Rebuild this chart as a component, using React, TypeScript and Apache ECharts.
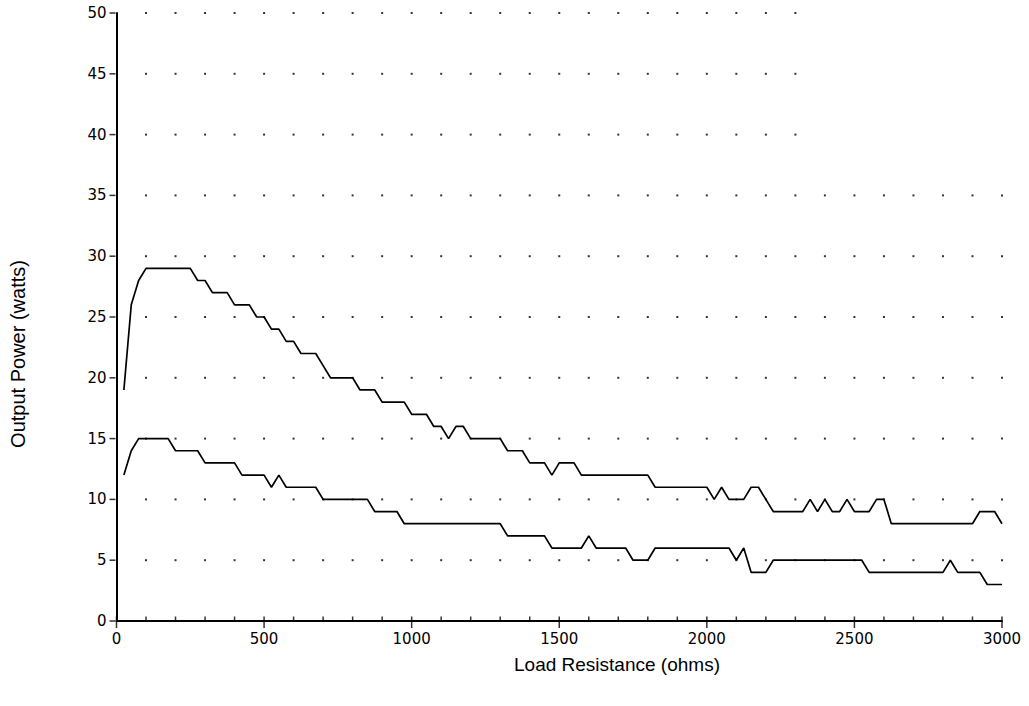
import React, { useEffect, useRef } from "react";
import * as echarts from "echarts";

// Upper curve: load resistance (ohms) and output power (watts) at its corners
const upperResistance = [25, 50, 75, 100, 250, 275, 300, 325, 375, 400, 450, 475, 500, 525, 550, 575, 600, 625, 675, 700, 725, 800, 825, 875, 900, 975, 1000, 1050, 1075, 1100, 1125, 1150, 1175, 1200, 1300, 1325, 1375, 1400, 1450, 1475, 1500, 1550, 1575, 1800, 1825, 2000, 2025, 2050, 2075, 2125, 2150, 2175, 2200, 2225, 2325, 2350, 2375, 2400, 2425, 2450, 2475, 2500, 2550, 2575, 2600, 2625, 2900, 2925, 2975, 3000];
const upperPower = [19, 26, 28, 29, 29, 28, 28, 27, 27, 26, 26, 25, 25, 24, 24, 23, 23, 22, 22, 21, 20, 20, 19, 19, 18, 18, 17, 17, 16, 16, 15, 16, 16, 15, 15, 14, 14, 13, 13, 12, 13, 13, 12, 12, 11, 11, 10, 11, 10, 10, 11, 11, 10, 9, 9, 10, 9, 10, 9, 9, 10, 9, 9, 10, 10, 8, 8, 9, 9, 8];

// Lower curve
const lowerResistance = [25, 50, 75, 175, 200, 275, 300, 400, 425, 500, 525, 550, 575, 675, 700, 850, 875, 950, 975, 1300, 1325, 1450, 1475, 1575, 1600, 1625, 1725, 1750, 1800, 1825, 2075, 2100, 2125, 2150, 2200, 2225, 2525, 2550, 2800, 2825, 2850, 2925, 2950, 3000];
const lowerPower = [12, 14, 15, 15, 14, 14, 13, 13, 12, 12, 11, 12, 11, 11, 10, 10, 9, 9, 8, 8, 7, 7, 6, 6, 7, 6, 6, 5, 5, 6, 6, 5, 6, 4, 4, 5, 5, 4, 4, 5, 4, 4, 3, 3];

// Axis extents and tick steps
const xMax = 3000;
const xMajorStep = 500;
const xMinorStep = 100;
const yMax = 50;
const yStep = 5;

// Dotted grid rows (watts) and how far each row of dots reaches (ohms)
const dotRows = [5, 10, 15, 20, 25, 30, 35, 40, 45, 50];
const dotRowEnds = [3000, 3000, 3000, 3000, 3000, 3000, 3000, 2300, 2300, 2300];

const xTitle = "Load Resistance (ohms)";
const yTitle = "Output Power (watts)";

export default function App() {
  const ref = useRef<HTMLDivElement>(null);

  useEffect(() => {
    if (!ref.current) return;
    const chart = echarts.init(ref.current, null, { renderer: "svg" });

    const dots: number[][] = [];
    dotRows.forEach((y, i) => {
      for (let x = xMinorStep; x <= dotRowEnds[i]; x += xMinorStep) dots.push([x, y]);
    });
    const xMinorTicks: number[][] = [];
    for (let x = 0; x <= xMax; x += xMinorStep) xMinorTicks.push([x, 0]);
    const xMajorTicks: number[][] = [];
    for (let x = 0; x <= xMax; x += xMajorStep) xMajorTicks.push([x, 0]);
    const yTicks: number[][] = [];
    for (let y = 0; y <= yMax; y += yStep) yTicks.push([0, y]);

    const tickMarks = (data: number[][], size: number[], offset: number[]) => ({
      type: "scatter",
      silent: true,
      clip: false,
      data,
      symbol: "rect",
      symbolSize: size,
      symbolOffset: offset,
      itemStyle: { color: "#000" },
      z: 5,
    });

    const tickFont = { fontFamily: "DejaVu Sans", fontSize: 15, color: "#000" };

    chart.setOption({
      animation: false,
      backgroundColor: "#fff",
      grid: { left: 116.5, top: 13, width: 885.5, height: 608, containLabel: false },
      xAxis: {
        type: "value",
        min: 0,
        max: xMax,
        interval: xMajorStep,
        axisLine: { show: true, onZero: false, lineStyle: { color: "#000", width: 2 } },
        axisTick: { show: false },
        axisLabel: { ...tickFont, margin: 10, formatter: (v: number) => String(v) },
        splitLine: { show: false },
      },
      yAxis: {
        type: "value",
        min: 0,
        max: yMax,
        interval: yStep,
        axisLine: { show: true, onZero: false, lineStyle: { color: "#000", width: 2 } },
        axisTick: { show: false },
        axisLabel: { ...tickFont, margin: 10 },
        splitLine: { show: false },
      },
      series: [
        {
          type: "scatter",
          silent: true,
          data: dots,
          symbol: "rect",
          symbolSize: 2,
          itemStyle: { color: "#000" },
          z: 1,
        },
        tickMarks(xMinorTicks, [1.5, 4], [0, -2.5]),
        tickMarks(xMajorTicks, [1.5, 7], [0, 3.5]),
        tickMarks(yTicks, [6, 1.5], [-4, 0]),
        {
          type: "line",
          data: upperResistance.map((x, i) => [x, upperPower[i]]),
          symbol: "none",
          lineStyle: { color: "#000", width: 1.7 },
          z: 3,
        },
        {
          type: "line",
          data: lowerResistance.map((x, i) => [x, lowerPower[i]]),
          symbol: "none",
          lineStyle: { color: "#000", width: 1.7 },
          z: 3,
        },
      ],
      graphic: [
        {
          type: "text",
          x: 617,
          y: 664,
          style: {
            text: xTitle,
            fontFamily: "Liberation Sans",
            fontSize: 19,
            fill: "#000",
            textAlign: "center",
            textVerticalAlign: "middle",
          },
        },
        {
          type: "text",
          x: 18,
          y: 354,
          rotation: Math.PI / 2,
          style: {
            text: yTitle,
            fontFamily: "Liberation Sans",
            fontSize: 20,
            fill: "#000",
            textAlign: "center",
            textVerticalAlign: "middle",
          },
        },
      ],
    });

    return () => chart.dispose();
  }, []);

  return (
    <div
      ref={ref}
      style={{ position: "fixed", left: 0, top: 0, width: 1029, height: 706, background: "#fff" }}
    />
  );
}
